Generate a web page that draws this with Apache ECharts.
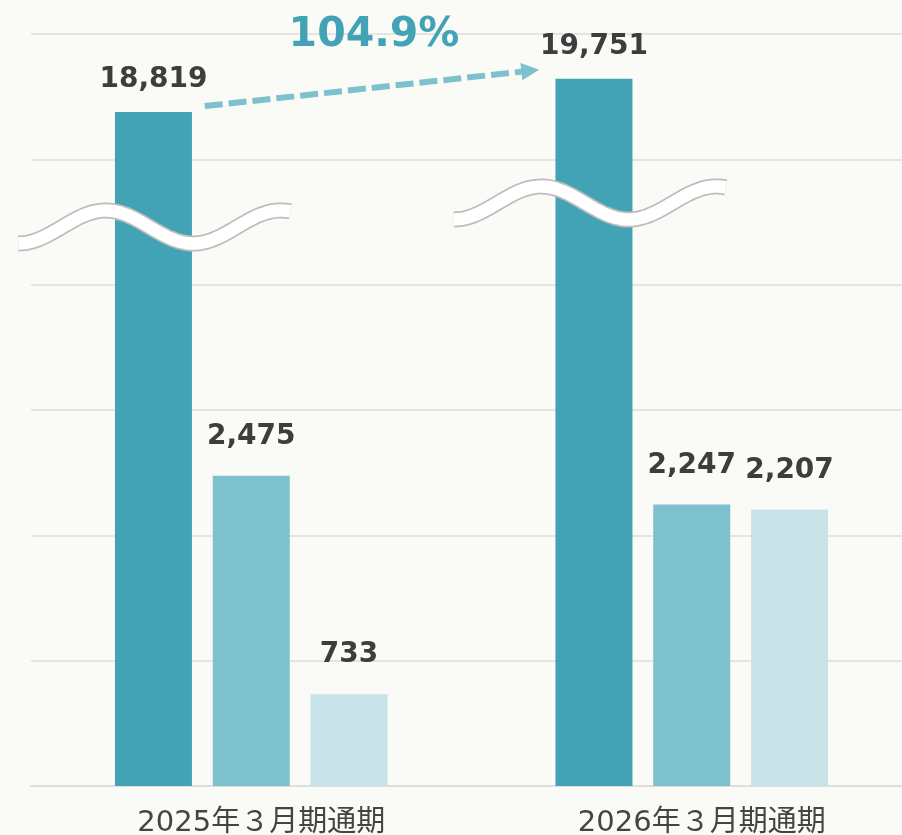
<!DOCTYPE html>
<html>
<head>
<meta charset="utf-8">
<title>売上高比較</title>
<script src="https://cdn.jsdelivr.net/npm/echarts@6/dist/echarts.min.js"></script>
<style>
  html, body { margin: 0; padding: 0; background: #fafaf6; }
  #main { width: 902px; height: 835px; }
</style>
</head>
<body>
<div id="main"></div>
<script>
  // data
  var categories = ['2025年３月期通期', '2026年３月期通期'];
  var totalValues = [18819, 19751];   // big bars, drawn on their own (broken) scale
  var midValues = [2475, 2247];
  var smallValues = [733, 2207];
  var growthText = '104.9%';

  var colors = ['#42a3b7', '#7dc1cf', '#c8e3e8'];
  var labelFont = 'DejaVu Sans, Verdana, sans-serif';

  var chart = echarts.init(document.getElementById('main'));

  function fmt(p) {
    return p.value.toLocaleString('en-US');
  }

  function barSeries(data, color, yIndex, dist) {
    return {
      type: 'bar',
      data: data,
      yAxisIndex: yIndex,
      barWidth: 77,
      barGap: '27%',
      itemStyle: { color: color },
      label: {
        show: true,
        position: 'top',
        distance: dist,
        formatter: fmt,
        color: '#3d3d3d',
        fontFamily: labelFont,
        fontWeight: 'bold',
        fontSize: 28
      },
      silent: true,
      animation: false
    };
  }

  var option = {
    backgroundColor: '#fafaf6',
    animation: false,
    grid: { left: 31, right: -10, top: 34, bottom: 49, outerBoundsMode: 'none', containLabel: false },
    xAxis: {
      type: 'category',
      data: categories,
      axisTick: { show: false },
      axisLine: { lineStyle: { color: '#dedede', width: 2 } },
      axisLabel: {
        color: '#444',
        fontSize: 29,
        fontFamily: 'DejaVu Sans, "Noto Sans CJK JP", sans-serif',
        margin: 23,
        padding: [0, 0, 0, 20]
      }
    },
    yAxis: [
      {
        type: 'value', min: 0, max: 6000, interval: 1000,
        axisLabel: { show: false },
        axisLine: { show: false },
        axisTick: { show: false },
        splitLine: { lineStyle: { color: '#e4e4e4', width: 2 } }
      },
      {
        type: 'value', min: 0, max: 21000, interval: 3500,
        axisLabel: { show: false },
        axisLine: { show: false },
        axisTick: { show: false },
        splitLine: { show: false }
      }
    ],
    series: [
      barSeries(totalValues, colors[0], 1, 18),
      barSeries(midValues, colors[1], 0, 25),
      barSeries(smallValues, colors[2], 0, 25)
    ]
  };

  chart.setOption(option);

  // decorations: break waves and growth arrow
  function wave(cx, cy) {
    var pts = [];
    for (var dx = -136; dx <= 136; dx += 4) {
      pts.push([cx + dx, cy + 16.5 * Math.cos((dx + 136) / 87.5 * Math.PI)]);
    }
    return [
      { type: 'polyline', shape: { points: pts, smooth: 0.3 }, style: { stroke: '#bdbdbd', lineWidth: 16, fill: null }, z: 100, silent: true },
      { type: 'polyline', shape: { points: pts, smooth: 0.3 }, style: { stroke: '#ffffff', lineWidth: 12.5, fill: null }, z: 101, silent: true }
    ];
  }

  var cx0 = chart.convertToPixel({ xAxisIndex: 0 }, categories[0]);
  var cx1 = chart.convertToPixel({ xAxisIndex: 0 }, categories[1]);
  var top0 = chart.convertToPixel({ yAxisIndex: 1 }, totalValues[0]);
  var top1 = chart.convertToPixel({ yAxisIndex: 1 }, totalValues[1]);
  var barOff = 98; // first bar center offset from category center

  var b0 = cx0 - barOff, b1 = cx1 - barOff;
  var sx = b0 + 38.5 + 13, sy = top0 - 6;
  var tx = b1 - 38.5 - 16, ty = top1 - 9;
  var len = Math.sqrt((tx - sx) * (tx - sx) + (ty - sy) * (ty - sy));
  var ux = (tx - sx) / len, uy = (ty - sy) / len;
  var nx = -uy, ny = ux;
  var headL = 18, headW = 8.7;
  var bx = tx - ux * headL, by = ty - uy * headL;

  var graphics = []
    .concat(wave(b0 + 1, 227))
    .concat(wave(b1 - 4, 203));
  graphics.push({
    type: 'line',
    shape: { x1: sx, y1: sy, x2: bx + ux * 2, y2: by + uy * 2 },
    style: { stroke: colors[1], lineWidth: 6, lineDash: [18, 6] },
    z: 100, silent: true
  });
  graphics.push({
    type: 'polygon',
    shape: { points: [[tx, ty], [bx + nx * headW, by + ny * headW], [bx - nx * headW, by - ny * headW]] },
    style: { fill: colors[1] },
    z: 100, silent: true
  });
  graphics.push({
    type: 'text',
    x: 374, y: 56,
    style: {
      text: growthText,
      fill: colors[0],
      font: 'bold 41px DejaVu Sans, Verdana, sans-serif',
      textAlign: 'center',
      textVerticalAlign: 'bottom'
    },
    z: 100, silent: true
  });

  chart.setOption({ graphic: graphics });
</script>
</body>
</html>
